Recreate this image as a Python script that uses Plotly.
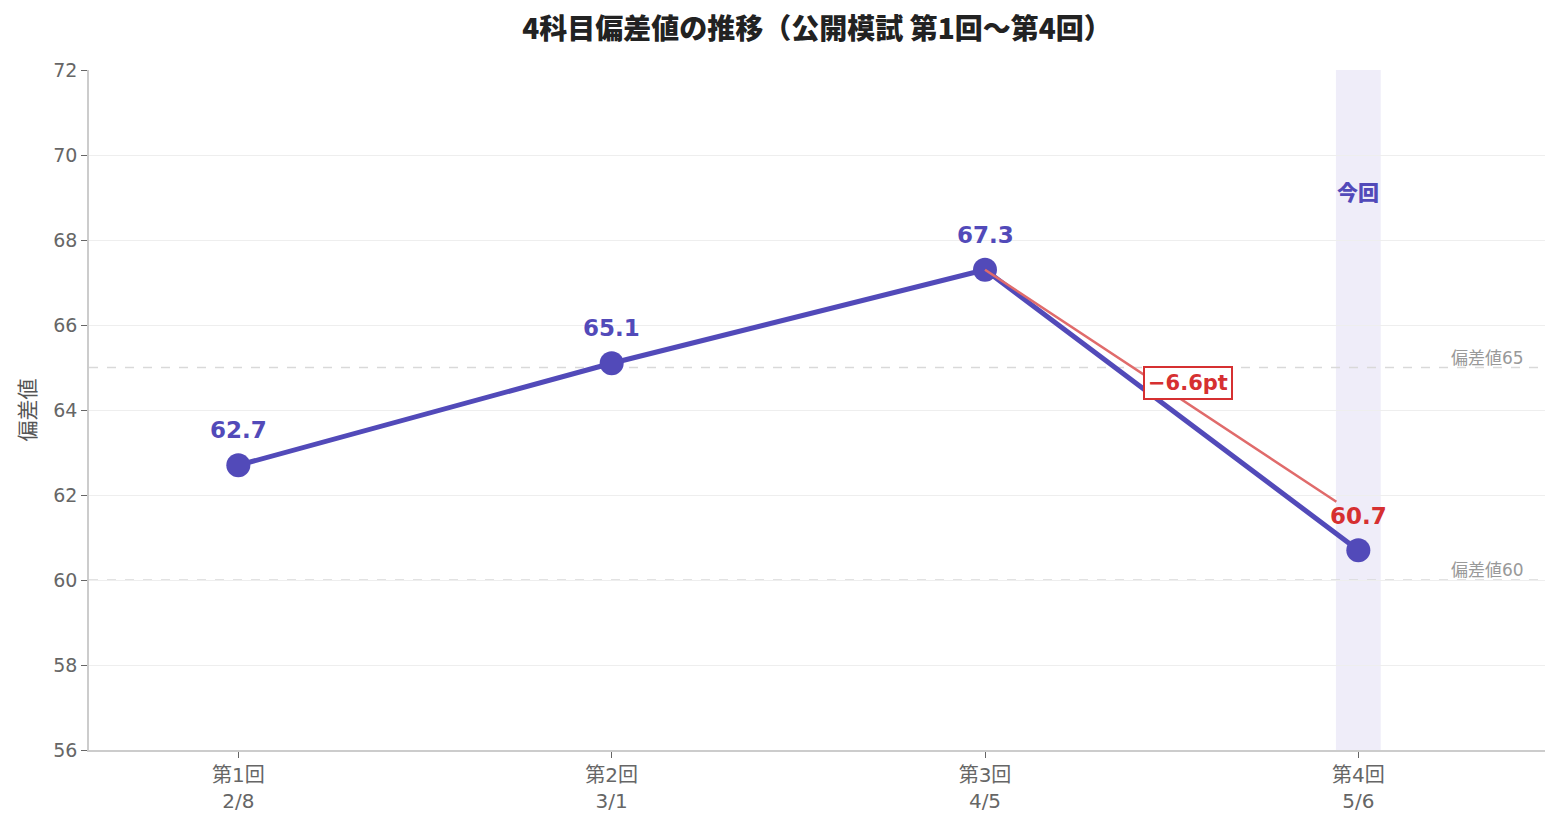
import plotly.graph_objects as go

rounds = ["第1回", "第2回", "第3回", "第4回"]
dates = ["2/8", "3/1", "4/5", "5/6"]
scores = [62.7, 65.1, 67.3, 60.7]
ref_levels = [65, 60]
ref_labels = ["偏差値65", "偏差値60"]
y_ticks = [56, 58, 60, 62, 64, 66, 68, 70, 72]

PURPLE = "#524ab9"
RED = "#d63031"
CJK = "Noto Sans CJK JP"
NUM = "DejaVu Sans, Noto Sans CJK JP"

x = list(range(len(scores)))
tick_text = [f"{r}<br>{d}" for r, d in zip(rounds, dates)]
diff = scores[3] - scores[2]

fig = go.Figure()

# highlight current round
fig.add_shape(type="rect", xref="x", yref="paper", x0=x[3] - 0.06, x1=x[3] + 0.06,
              y0=0, y1=1, fillcolor="#efedf9", line_width=0, layer="below")

# reference lines
for lv, lb in zip(ref_levels, ref_labels):
    fig.add_shape(type="line", xref="paper", yref="y", x0=0, x1=1, y0=lv, y1=lv,
                  line=dict(color="#d9d9d9", width=1.5, dash="dash"), layer="below")
    fig.add_annotation(xref="paper", yref="y", x=0.987, y=lv, text=lb, showarrow=False,
                       xanchor="right", yanchor="bottom", yshift=-2,
                       font=dict(family=NUM, size=17, color="#999999"))

fig.add_trace(go.Scatter(
    x=x, y=scores, mode="lines+markers",
    line=dict(color=PURPLE, width=5),
    marker=dict(size=24, color=PURPLE),
    hoverinfo="skip", showlegend=False,
))

# value labels
for i in range(3):
    fig.add_annotation(x=x[i], y=scores[i], text=f"<b>{scores[i]}</b>", showarrow=False,
                       yshift=35, font=dict(family=NUM, size=23, color=PURPLE))

# last value label with connector from previous point
fig.add_annotation(x=x[2], y=scores[2], ax=x[3], ay=scores[3] + 0.8,
                   axref="x", ayref="y", text=f"<b>{scores[3]}</b>",
                   showarrow=True, arrowhead=0, arrowwidth=2.5, arrowcolor="#e06b6b",
                   standoff=0, font=dict(family=NUM, size=23, color=RED))

# difference badge
fig.add_annotation(x=2.543, y=(scores[2] + scores[3]) / 2 + 0.63,
                   text=f"<b>−{abs(diff):.1f}pt</b>", showarrow=False,
                   bgcolor="white", bordercolor=RED, borderwidth=2, borderpad=3,
                   font=dict(family=NUM, size=21, color=RED))

fig.add_annotation(x=x[3], y=69.15, text="今回", showarrow=False,
                   font=dict(family=CJK, size=21, color=PURPLE, weight=900))

fig.update_layout(
    width=1545, height=810,
    paper_bgcolor="white", plot_bgcolor="white",
    margin=dict(l=81, r=8, t=62, b=68),
    font=dict(family=NUM, color="#666666"),
    title=dict(text="4科目偏差値の推移（公開模試 第1回〜第4回）",
               x=0.5, xref="paper", xanchor="center",
               y=0.974, yref="container", yanchor="middle",
               font=dict(family=CJK, size=28, color="#222222", weight=900)),
    xaxis=dict(range=[-0.4, 3.5], tickmode="array", tickvals=x, ticktext=tick_text,
               showgrid=False, zeroline=False, showline=True, linecolor="#cccccc",
               linewidth=1.5, ticks="outside", tickcolor="#666666", ticklen=6,
               automargin=False, tickfont=dict(size=20, color="#666666")),
    yaxis=dict(range=[56, 72], tickvals=y_ticks, showgrid=True, gridcolor="#eeeeee",
               zeroline=False, showline=True, linecolor="#cccccc", linewidth=1.5,
               ticks="outside", tickcolor="#666666", ticklen=6, automargin=False,
               tickfont=dict(size=19, color="#666666"),
               title=dict(text="偏差値", font=dict(family=CJK, size=21, color="#555555"),
                          standoff=12)),
)

fig.write_html("out.html")
